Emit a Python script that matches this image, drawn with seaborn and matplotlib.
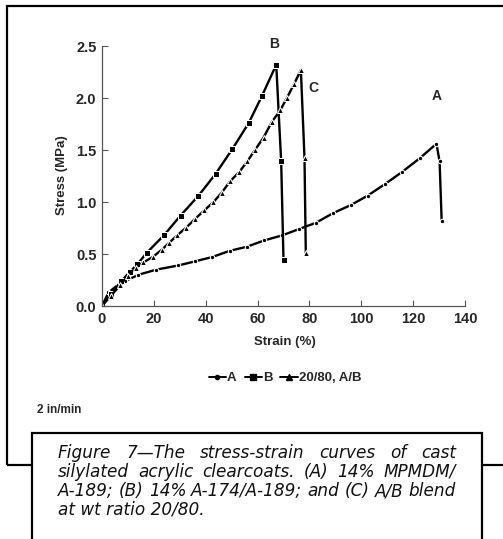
import matplotlib
matplotlib.use("Agg")
import matplotlib.pyplot as plt
import seaborn as sns
import pandas as pd
from matplotlib.patches import Rectangle
from matplotlib.lines import Line2D

# ---- data ----
a_strain = [0, 2.5, 6, 9, 14, 21, 29.5, 36, 42.4, 49.2, 55.9, 62.5, 69.6, 76, 82.5,
            88.9, 95.9, 102.4, 109, 115.8, 122.5, 129, 130.2, 131]
a_stress = [0, 0.13, 0.20, 0.24, 0.30, 0.35, 0.39, 0.43, 0.47, 0.53, 0.57, 0.63, 0.68,
            0.74, 0.80, 0.89, 0.97, 1.06, 1.17, 1.29, 1.42, 1.56, 1.39, 0.82]

b_strain = [0, 3.5, 7.5, 10.8, 13.6, 17.2, 23.9, 30.3, 37.2, 43.8, 50.3, 56.6, 61.7,
            67.2, 69.1, 70]
b_stress = [0, 0.12, 0.24, 0.33, 0.40, 0.51, 0.68, 0.87, 1.06, 1.27, 1.51, 1.76, 2.02,
            2.32, 1.39, 0.44]

c_strain = [0, 3.5, 7, 10, 13, 16, 19.5, 23, 26, 29, 32.3, 36, 39.5, 43, 46.2, 49.4,
            53, 56, 59, 62.3, 65.5, 68.7, 71.3, 74, 76.7, 78.1, 78.6]
c_stress = [0, 0.10, 0.20, 0.29, 0.37, 0.42, 0.47, 0.54, 0.61, 0.68, 0.75, 0.84, 0.92,
            1.00, 1.09, 1.20, 1.29, 1.39, 1.50, 1.62, 1.77, 1.88, 2.00, 2.13, 2.27,
            1.42, 0.51]

legend_labels = ["A", "B", "20/80, A/B"]
x_ticks = [0, 20, 40, 60, 80, 100, 120, 140]
y_ticks = [0.0, 0.5, 1.0, 1.5, 2.0, 2.5]
caption = ["Figure 7\u2014The stress-strain curves of cast",
           "silylated acrylic clearcoats. (A) 14% MPMDM/",
           "A-189; (B) 14% A-174/A-189; and (C) A/B blend",
           "at wt ratio 20/80."]

sns.set_theme(style="white")
plt.rcParams["font.family"] = ["Liberation Sans", "DejaVu Sans"]

W, H = 503, 539
fig = plt.figure(figsize=(W / 100, H / 100), dpi=100)

def fx(px):
    return px / W

def fy(py):
    return 1 - py / H

ax = fig.add_axes([fx(102), fy(306), fx(465) - fx(102), fy(46) - fy(306)])

df_a = pd.DataFrame({"strain": a_strain, "stress": a_stress})
df_b = pd.DataFrame({"strain": b_strain, "stress": b_stress})
df_c = pd.DataFrame({"strain": c_strain, "stress": c_stress})

kw = dict(x="strain", y="stress", sort=False, estimator=None, color="black",
          linewidth=1.7, ax=ax)
sns.lineplot(data=df_a, marker="o", markersize=3.2, **kw)
sns.lineplot(data=df_b, marker="s", markersize=4.6, **kw)
sns.lineplot(data=df_c, marker="^", markersize=3.8, **kw)

ax.set_xlim(0, 140)
ax.set_ylim(0, 2.5)
ax.set_xticks(x_ticks)
ax.set_yticks(y_ticks)
ax.set_xticklabels([str(t) for t in x_ticks], fontsize=10.5, fontweight="bold")
ax.set_yticklabels([f"{t:.1f}" for t in y_ticks], fontsize=10.5, fontweight="bold")
ax.tick_params(direction="in", length=4, width=0.8, color="#555555", pad=4,
               bottom=True, left=True)
for s in ["top", "right"]:
    ax.spines[s].set_visible(False)
for s in ["left", "bottom"]:
    ax.spines[s].set_color("#555555")
    ax.spines[s].set_linewidth(0.9)
ax.set_xlabel("")
ax.set_ylabel("")
ax.set_facecolor("none")

fig.text(fx(62), fy(175), "Stress (MPa)", rotation=90, ha="center", va="center",
         fontsize=9.5, fontweight="bold")
fig.text(fx(285), fy(342), "Strain (%)", ha="center", va="center",
         fontsize=9.5, fontweight="bold")

ax.text(66.5, 2.52, "B", ha="center", va="center", fontsize=10, fontweight="bold")
ax.text(81.5, 2.10, "C", ha="center", va="center", fontsize=10, fontweight="bold")
ax.text(129, 2.02, "A", ha="center", va="center", fontsize=10, fontweight="bold")

handles = [Line2D([], [], color="black", marker=m, markersize=ms, linewidth=1.4)
           for m, ms in [("o", 3), ("s", 4.5), ("^", 4)]]
fig.legend(handles, legend_labels, loc="center", bbox_to_anchor=(fx(285), fy(378)),
           ncol=3, frameon=False, handlelength=1.3, handletextpad=0.1,
           columnspacing=0.6, prop={"weight": "bold", "size": 9.5})

fig.text(fx(37), fy(410), "2 in/min", ha="left", va="center", fontsize=8.5,
         fontweight="bold")

# outer frame and caption box
fig.patches.append(Rectangle((fx(7), fy(465)), fx(510) - fx(7), fy(6) - fy(465),
                             transform=fig.transFigure, fill=False, lw=1.6,
                             edgecolor="black", zorder=1))
fig.patches.append(Rectangle((fx(32), fy(560)), fx(482) - fx(32), fy(433) - fy(560),
                             transform=fig.transFigure, facecolor="white", lw=1.6,
                             edgecolor="black", zorder=2))

fig.canvas.draw()
renderer = fig.canvas.get_renderer()
left_px, right_px = 58, 456
baselines = [458, 477, 496, 515]
cap_font = dict(family=["DejaVu Sans"], style="oblique", fontsize=12.2,
                color="#111111")
for i, line in enumerate(caption):
    yb = fy(baselines[i])
    if i < len(caption) - 1:
        words = line.split(" ")
        texts = [fig.text(0, yb, w, ha="left", va="baseline", zorder=3, **cap_font)
                 for w in words]
        widths = [t.get_window_extent(renderer).width for t in texts]
        gap = (right_px - left_px - sum(widths)) / (len(words) - 1)
        x = left_px
        for t, w in zip(texts, widths):
            t.set_x(fx(x))
            x += w + gap
    else:
        fig.text(fx(left_px), yb, line, ha="left", va="baseline", zorder=3, **cap_font)

fig.savefig("out.png", dpi=100)
